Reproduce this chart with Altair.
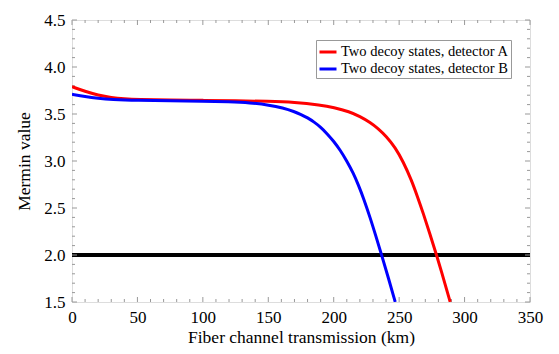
import altair as alt
import pandas as pd

# Curve data
km_a = [0, 10, 20, 30, 40, 50, 75, 100, 125, 150, 170, 190, 200, 212, 220, 228,
        234, 240, 247, 253, 259.5, 264, 268.4, 273.5, 278.6, 284, 289]
val_a = [3.79, 3.74, 3.70, 3.675, 3.662, 3.655, 3.648, 3.645, 3.642, 3.635, 3.625,
         3.595, 3.57, 3.525, 3.475, 3.41, 3.345, 3.265, 3.145, 2.995, 2.795, 2.62,
         2.445, 2.225, 2.0, 1.745, 1.5]
km_b = [0, 10, 20, 30, 50, 75, 100, 120, 136, 151, 161, 170, 175, 180, 185, 190,
        195, 200, 205, 210, 215, 219, 223, 228, 232, 236.6, 242, 247]
val_b = [3.71, 3.685, 3.667, 3.655, 3.645, 3.642, 3.636, 3.63, 3.62, 3.595, 3.565,
         3.525, 3.495, 3.46, 3.415, 3.36, 3.29, 3.21, 3.115, 3.0, 2.87, 2.74, 2.596,
         2.391, 2.211, 2.0, 1.746, 1.5]
series = ["Two decoy states, detector A", "Two decoy states, detector B"]
colors = ["#ff0000", "#0000ff"]
threshold = [2.0]

x_major = [0, 50, 100, 150, 200, 250, 300, 350]
x_minor = [10, 20, 30, 40, 60, 70, 80, 90, 110, 120, 130, 140, 160, 170, 180, 190,
           210, 220, 230, 240, 260, 270, 280, 290, 310, 320, 330, 340]
y_major = [1.5, 2.0, 2.5, 3.0, 3.5, 4.0, 4.5]
y_minor = [1.6, 1.7, 1.8, 1.9, 2.1, 2.2, 2.3, 2.4, 2.6, 2.7, 2.8, 2.9, 3.1, 3.2,
           3.3, 3.4, 3.6, 3.7, 3.8, 3.9, 4.1, 4.2, 4.3, 4.4]

W, H = 458, 282
FONT = "Liberation Serif, Times New Roman, serif"
FRAME = "#999999"

xscale = alt.Scale(domain=[0, 350], nice=False, zero=False)
yscale = alt.Scale(domain=[1.5, 4.5], nice=False, zero=False)
xaxis = alt.Axis(values=x_major, format="d", title="Fiber channel transmission (km)",
                 ticks=False, domain=False, grid=False, labelPadding=7,
                 titlePadding=3, labelFontSize=17, titleFontSize=17.5,
                 labelFont=FONT, titleFont=FONT, labelColor="black",
                 titleColor="black", titleFontWeight="normal", labelFlush=False)
yaxis = alt.Axis(values=y_major, format=".1f", title="Mermin value",
                 ticks=False, domain=False, grid=False, labelPadding=7,
                 titlePadding=10, labelFontSize=17, titleFontSize=17.5,
                 labelFont=FONT, titleFont=FONT, labelColor="black",
                 titleColor="black", titleFontWeight="normal", labelFlush=False)

X = alt.X("km:Q", scale=xscale, axis=xaxis)
Y = alt.Y("val:Q", scale=yscale, axis=yaxis)

rows = []
for k, v in zip(km_a, val_a):
    rows.append({"km": k, "val": v, "s": series[0]})
for k, v in zip(km_b, val_b):
    rows.append({"km": k, "val": v, "s": series[1]})
df = pd.DataFrame(rows)

hline = alt.Chart(pd.DataFrame({"val": threshold})).mark_rule(
    color="black", strokeWidth=4).encode(y=Y)

lines = alt.Chart(df).mark_line(strokeWidth=3, interpolate="basis", clip=True).encode(
    x=X, y=Y,
    color=alt.Color("s:N", scale=alt.Scale(domain=series, range=colors),
                    legend=alt.Legend(title=None, orient="none", legendX=244, legendY=20,
                                      symbolType="stroke", symbolStrokeWidth=3,
                                      symbolSize=289, labelFontSize=14.5, labelFont=FONT,
                                      labelColor="black", strokeColor=FRAME,
                                      fillColor="white", padding=2, rowPadding=0,
                                      labelOffset=3, labelLimit=400)),
    order=alt.Order("km:Q"),
    detail="s:N",
)

dxM = pd.DataFrame({"km": x_major})
dxm = pd.DataFrame({"km": x_minor})
dyM = pd.DataFrame({"val": y_major})
dym = pd.DataFrame({"val": y_minor})

def xt(d, y0, y1):
    return alt.Chart(d).mark_rule(color=FRAME, strokeWidth=1).encode(
        x=X, y=alt.value(y0), y2=alt.value(y1))

def yt(d, x0, x1):
    return alt.Chart(d).mark_rule(color=FRAME, strokeWidth=1).encode(
        y=Y, x=alt.value(x0), x2=alt.value(x1))

ticks = [
    xt(dxM, H, H - 5), xt(dxm, H, H - 3), xt(dxM, 0, 5), xt(dxm, 0, 3),
    yt(dyM, 0, 5), yt(dym, 0, 3), yt(dyM, W, W - 5), yt(dym, W, W - 3),
]

chart = alt.layer(hline, *ticks, lines).properties(
    width=W, height=H,
    autosize=alt.AutoSizeParams(type="none"),
    padding={"left": 64, "top": 12, "right": 21, "bottom": 50},
).configure_view(stroke=FRAME, strokeWidth=1).configure(background="white", font=FONT)

chart.save("out.html", embed_options={"renderer": "svg", "actions": False})
